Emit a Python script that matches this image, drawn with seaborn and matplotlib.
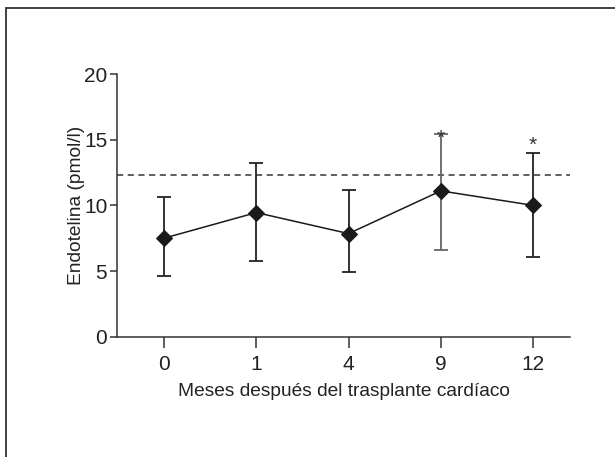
import matplotlib
matplotlib.use("Agg")
import matplotlib.pyplot as plt
import seaborn as sns
import pandas as pd
import numpy as np
from matplotlib.patches import Rectangle

months = ["0", "1", "4", "9", "12"]
mean_vals = [7.5, 9.45, 7.85, 11.1, 10.0]
upper_vals = [10.6, 13.25, 11.15, 15.4, 13.95]
lower_vals = [4.6, 5.75, 4.95, 6.6, 6.1]
bar_colors = ["#222222", "#222222", "#222222", "#666666", "#222222"]
star_marks = ["", "", "", "*", "*"]
star_levels = [0, 0, 0, 15.1, 14.55]
reference_level = 12.3

sns.set_theme(style="white")
plt.rcParams['font.family'] = ['Liberation Sans Narrow', 'Liberation Sans', 'DejaVu Sans']

fig = plt.figure(figsize=(6.15, 4.57), dpi=100)
ax = fig.add_axes([117/615, 1-336.7/457, (570-117)/615, (336.7-74)/457])

df = pd.DataFrame({"mes": months, "endotelina": mean_vals})
pos = np.arange(len(months))

# error bars
for i in range(len(months)):
    ax.errorbar([pos[i]], [mean_vals[i]],
                yerr=[[mean_vals[i]-lower_vals[i]], [upper_vals[i]-mean_vals[i]]],
                fmt="none", ecolor=bar_colors[i], elinewidth=1.3, capsize=5, capthick=1.3, zorder=2)

sns.lineplot(data=df, x="mes", y="endotelina", sort=False, ax=ax, color="#1a1a1a",
             linewidth=1.1, marker="D", markersize=8.5, markeredgecolor="#1a1a1a",
             markerfacecolor="#1a1a1a", zorder=3)

ax.axhline(reference_level, color="#333333", linestyle=(0, (4, 3)), linewidth=1.1, zorder=1)

for i in range(len(months)):
    if star_marks[i]:
        ax.text(pos[i], star_levels[i], star_marks[i], ha="center", va="center",
                fontsize=15, color="#333333")

ax.set_xlim(-0.51, 4.4)
ax.set_ylim(0, 20)
ax.set_yticks([0, 5, 10, 15, 20])
ax.set_xticks(pos)
ax.set_xticklabels(months)
ax.set_xlabel("Meses después del trasplante cardíaco", fontsize=13.8, color="#222222", labelpad=7)
ax.set_ylabel("Endotelina (pmol/l)", fontsize=13.8, color="#222222", labelpad=-1)

for s in ["top", "right"]:
    ax.spines[s].set_visible(False)
for s in ["left", "bottom"]:
    ax.spines[s].set_color("#333333")
    ax.spines[s].set_linewidth(1.1)

ax.tick_params(axis="y", direction="out", length=5, width=1.1, color="#333333",
               labelsize=15, labelcolor="#222222", left=True, pad=2)
ax.tick_params(axis="x", direction="out", length=8, width=1.1, color="#333333",
               labelsize=15, labelcolor="#222222", bottom=True, pad=5)

fig.patches.append(Rectangle((6/615, -0.1), 1.2, 1 - 8/457 + 0.1, transform=fig.transFigure,
                             fill=False, edgecolor="#333333", linewidth=1.3))

fig.savefig("out.png", dpi=100)
